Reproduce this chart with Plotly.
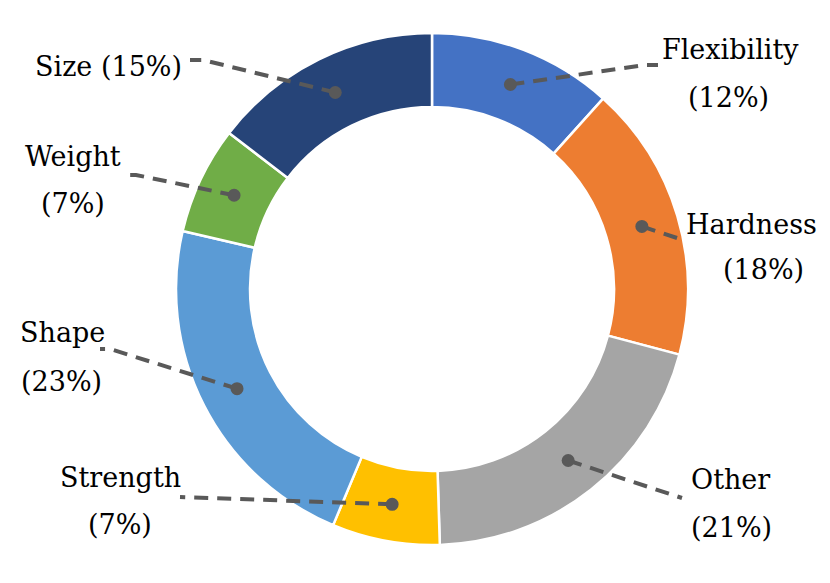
import plotly.graph_objects as go
import numpy as np

# ---- data ----
categories = ["Flexibility", "Hardness", "Other", "Strength", "Shape", "Weight", "Size"]
values = [12, 18, 21, 7, 23, 7, 15]
colors = ["#4472C4", "#ED7D31", "#A5A5A5", "#FFC000", "#5B9BD5", "#70AD47", "#264478"]

# ---- layout constants (pixels, in page coordinates) ----
PAGE_W, PAGE_H = 830, 583
OFF = 8  # page body margin
W, H = PAGE_W - OFF, PAGE_H - OFF
CX, CY, R_OUT, R_IN = 432, 289, 256, 182
LINE_COLOR = "#595959"
FONT = "DejaVu Serif"
FSIZE = 27

# label placement: leader end point, horizontal stub length, text lines (x, y, xanchor)
label_layout = {
    "Flexibility": dict(end=(658, 65), stub=-13, lines=[(730, 49, "center"), (728, 97, "center")]),
    "Hardness":    dict(end=(683, 240), stub=0, lines=[(819, 224, "right"), (763, 269, "center")]),
    "Other":       dict(end=(682, 498), stub=0, lines=[(730, 479, "center"), (731, 527, "center")]),
    "Strength":    dict(end=(180, 497), stub=0, lines=[(120, 477, "center"), (120, 524, "center")]),
    "Shape":       dict(end=(100, 349), stub=10, lines=[(62, 332, "center"), (61, 381, "center")]),
    "Weight":      dict(end=(123, 175), stub=13, lines=[(73, 156, "center"), (73, 203, "center")]),
    "Size":        dict(end=(190, 60), stub=13, lines=[(184, 66, "right")]),
}

fig = go.Figure()

fig.add_trace(go.Pie(
    labels=categories, values=values, sort=False, direction="clockwise", rotation=0,
    hole=R_IN / R_OUT,
    marker=dict(colors=colors, line=dict(color="white", width=2.5)),
    textinfo="none", showlegend=False, hoverinfo="label+percent",
    domain=dict(x=[(CX - R_OUT - OFF) / W, (CX + R_OUT - OFF) / W],
                y=[(PAGE_H - CY - R_OUT) / H, (PAGE_H - CY + R_OUT) / H]),
))

# invisible cartesian axes in page-pixel units for overlays
fig.add_trace(go.Scatter(x=[OFF, PAGE_W], y=[OFF, PAGE_H], mode="markers",
                         marker=dict(opacity=0), showlegend=False, hoverinfo="skip"))

total = float(sum(values))
cum = np.cumsum([0] + values) / total
r_mid = (R_IN + R_OUT) / 2
shapes = []
annotations = []
for i, name in enumerate(categories):
    mid = (cum[i] + cum[i + 1]) / 2 * 2 * np.pi  # clockwise from 12 o'clock
    dx = CX + r_mid * np.sin(mid)
    dy = CY - r_mid * np.cos(mid)
    lay = label_layout[name]
    ex, ey = lay["end"]
    path = f"M {dx:.1f},{dy:.1f} L {ex + lay['stub']:.1f},{ey:.1f} L {ex:.1f},{ey:.1f}"
    shapes.append(dict(type="path", path=path, xref="x", yref="y", layer="above",
                       line=dict(color=LINE_COLOR, width=4, dash="14px,9px")))
    rr = 6.5
    shapes.append(dict(type="circle", xref="x", yref="y", layer="above",
                       x0=dx - rr, x1=dx + rr, y0=dy - rr, y1=dy + rr,
                       fillcolor=LINE_COLOR, line=dict(width=0)))
    pct = f"({values[i]}%)"
    texts = [f"{name} {pct}"] if len(lay["lines"]) == 1 else [name, pct]
    for (tx, ty, anc), t in zip(lay["lines"], texts):
        annotations.append(dict(x=tx, y=ty, xref="x", yref="y", text=t, showarrow=False,
                                xanchor=anc, yanchor="middle",
                                font=dict(family=FONT, size=FSIZE, color="black")))

fig.update_layout(
    width=W, height=H, margin=dict(l=0, r=0, t=0, b=0),
    paper_bgcolor="white", plot_bgcolor="rgba(0,0,0,0)",
    xaxis=dict(range=[OFF, PAGE_W], visible=False, fixedrange=True, domain=[0, 1]),
    yaxis=dict(range=[PAGE_H, OFF], visible=False, fixedrange=True, domain=[0, 1]),
    shapes=shapes, annotations=annotations, showlegend=False,
)

fig.write_html("out.html")
